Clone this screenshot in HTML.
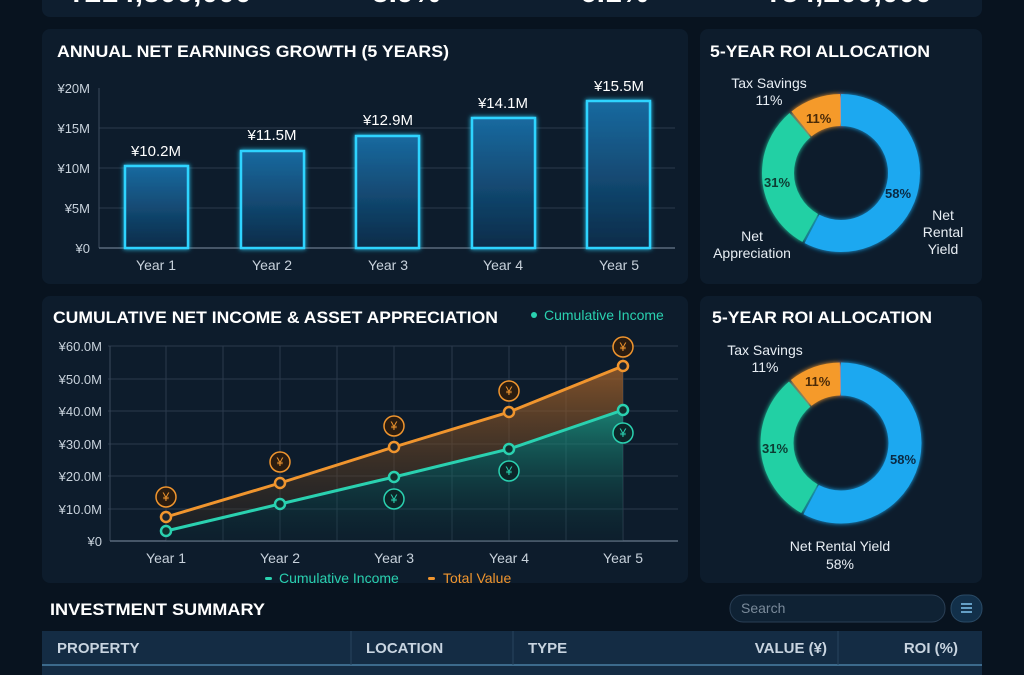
<!DOCTYPE html>
<html><head><meta charset="utf-8"><style>
body{margin:0;width:1024px;height:675px;overflow:hidden;background:#08131f;font-family:"Liberation Sans",sans-serif}
svg{display:block}
</style></head><body>
<svg width="1024" height="675" viewBox="0 0 1024 675" xmlns="http://www.w3.org/2000/svg" font-family="Liberation Sans, sans-serif">
<defs>
<linearGradient id="bar" x1="0" y1="0" x2="0" y2="1"><stop offset="0" stop-color="#1a6aa0"/><stop offset="1" stop-color="#0b2b48"/></linearGradient>
<linearGradient id="og" x1="0" y1="0" x2="0" y2="1"><stop offset="0" stop-color="#a8642a" stop-opacity=".75"/><stop offset="1" stop-color="#3a2a1a" stop-opacity=".3"/></linearGradient>
<linearGradient id="tg" x1="0" y1="0" x2="0" y2="1"><stop offset="0" stop-color="#1fa88e" stop-opacity=".7"/><stop offset="1" stop-color="#0c2a30" stop-opacity=".2"/></linearGradient>
<filter id="gl" filterUnits="userSpaceOnUse" x="0" y="0" width="1024" height="675"><feGaussianBlur stdDeviation="2.5" result="b"/><feMerge><feMergeNode in="b"/><feMergeNode in="SourceGraphic"/></feMerge></filter>
</defs>
<rect width="1024" height="675" fill="#08131f"/>
<rect x="42" y="-20" width="940" height="37" rx="8" fill="#0e1e2f"/>
<g fill="#fff" font-size="30" font-weight="bold">
<text x="68" y="2">¥214,500,000</text><text x="372" y="2">5.9%</text><text x="580" y="2">6.1%</text><text x="765" y="2">¥54,200,000</text></g>
<rect x="42" y="29" width="646" height="255" rx="8" fill="#0d1c2c"/>
<rect x="700" y="29" width="282" height="255" rx="8" fill="#0d1c2c"/>
<rect x="42" y="296" width="646" height="287" rx="8" fill="#0d1c2c"/>
<rect x="700" y="296" width="282" height="287" rx="8" fill="#0d1c2c"/>
<!-- panel1 -->
<text x="57" y="57" fill="#fff" font-size="17" font-weight="bold" textLength="392" lengthAdjust="spacingAndGlyphs">ANNUAL NET EARNINGS GROWTH (5 YEARS)</text>
<g stroke="#2a3a4c" stroke-width="1"><line x1="99" y1="128" x2="675" y2="128"/><line x1="99" y1="168" x2="675" y2="168"/><line x1="99" y1="208" x2="675" y2="208"/></g>
<line x1="99" y1="88" x2="99" y2="248" stroke="#3a4a5c"/>
<line x1="99" y1="248" x2="675" y2="248" stroke="#5a6a7c" stroke-width="1.5"/>
<g fill="#c8d2dc" font-size="13" text-anchor="end"><text x="90" y="93">¥20M</text><text x="90" y="133">¥15M</text><text x="90" y="173">¥10M</text><text x="90" y="213">¥5M</text><text x="90" y="253">¥0</text></g>
<g fill="url(#bar)" stroke="#2fd4ff" stroke-width="2.5" filter="url(#gl)">
<rect x="125" y="166" width="63" height="82"/><rect x="241" y="151" width="63" height="97"/><rect x="356" y="136" width="63" height="112"/><rect x="472" y="118" width="63" height="130"/><rect x="587" y="101" width="63" height="147"/></g>
<g fill="#fff" font-size="15" text-anchor="middle"><text x="156" y="156">¥10.2M</text><text x="272" y="140">¥11.5M</text><text x="388" y="125">¥12.9M</text><text x="503" y="108">¥14.1M</text><text x="619" y="91">¥15.5M</text></g>
<g fill="#c8d2dc" font-size="14" text-anchor="middle"><text x="156" y="270">Year 1</text><text x="272" y="270">Year 2</text><text x="388" y="270">Year 3</text><text x="503" y="270">Year 4</text><text x="619" y="270">Year 5</text></g>
<!-- donut 1 -->
<text x="710" y="57" fill="#fff" font-size="17" font-weight="bold" textLength="220" lengthAdjust="spacingAndGlyphs">5-YEAR ROI ALLOCATION</text>
<g transform="rotate(-90 841 173)" fill="none" stroke-width="32" filter="url(#gl)">
<circle cx="841" cy="173" r="63" stroke="#1aa8f0" stroke-dasharray="228 168"/>
<circle cx="841" cy="173" r="63" stroke="#22d0a4" stroke-dasharray="0 230 121 45"/>
<circle cx="841" cy="173" r="63" stroke="#f59a2a" stroke-dasharray="0 353 42 1"/>
</g>
<g fill="#0a2a44" font-size="13" font-weight="bold"><text x="885" y="198">58%</text><text x="764" y="187" fill="#0d3b32">31%</text><text x="806" y="123" fill="#4a2a08">11%</text></g>
<g fill="#e8eef4" font-size="14" text-anchor="middle"><text x="769" y="88">Tax Savings</text><text x="769" y="105">11%</text>
<text x="752" y="241">Net</text><text x="752" y="258">Appreciation</text>
<text x="943" y="220">Net</text><text x="943" y="237">Rental</text><text x="943" y="254">Yield</text></g>
<!-- panel3 -->
<text x="53" y="323" fill="#fff" font-size="17" font-weight="bold" textLength="445" lengthAdjust="spacingAndGlyphs">CUMULATIVE NET INCOME &amp; ASSET APPRECIATION</text>
<circle cx="534" cy="315" r="3" fill="#2ad1b0"/><text x="544" y="320" fill="#2ad1b0" font-size="14">Cumulative Income</text>
<g stroke="#2a3a4c"><line x1="108" y1="346" x2="678" y2="346"/><line x1="108" y1="379" x2="678" y2="379"/><line x1="108" y1="411" x2="678" y2="411"/><line x1="108" y1="444" x2="678" y2="444"/><line x1="108" y1="476" x2="678" y2="476"/><line x1="108" y1="509" x2="678" y2="509"/>
<line x1="166" y1="346" x2="166" y2="541"/><line x1="223" y1="346" x2="223" y2="541"/><line x1="280" y1="346" x2="280" y2="541"/><line x1="337" y1="346" x2="337" y2="541"/><line x1="394" y1="346" x2="394" y2="541"/><line x1="452" y1="346" x2="452" y2="541"/><line x1="509" y1="346" x2="509" y2="541"/><line x1="566" y1="346" x2="566" y2="541"/><line x1="623" y1="346" x2="623" y2="541"/></g>
<line x1="110" y1="346" x2="110" y2="541" stroke="#3a4a5c"/>
<line x1="110" y1="541" x2="678" y2="541" stroke="#5a6a7c" stroke-width="1.5"/>
<g fill="#c8d2dc" font-size="13" text-anchor="end"><text x="102" y="351">¥60.0M</text><text x="102" y="384">¥50.0M</text><text x="102" y="416">¥40.0M</text><text x="102" y="449">¥30.0M</text><text x="102" y="481">¥20.0M</text><text x="102" y="514">¥10.0M</text><text x="102" y="546">¥0</text></g>
<polygon points="166,517 280,483 394,447 509,412 623,366 623,410 509,449 394,477 280,504 166,531" fill="url(#og)"/>
<polygon points="166,531 280,504 394,477 509,449 623,410 623,541 166,541" fill="url(#tg)"/>
<polyline points="166,517 280,483 394,447 509,412 623,366" fill="none" stroke="#f0952e" stroke-width="3"/>
<polyline points="166,531 280,504 394,477 509,449 623,410" fill="none" stroke="#2ad1b0" stroke-width="3"/>
<g fill="#1a2430" stroke="#f0952e" stroke-width="2.5"><circle cx="166" cy="517" r="5"/><circle cx="280" cy="483" r="5"/><circle cx="394" cy="447" r="5"/><circle cx="509" cy="412" r="5"/><circle cx="623" cy="366" r="5"/></g>
<g fill="#12302e" stroke="#2ad1b0" stroke-width="2.5"><circle cx="166" cy="531" r="5"/><circle cx="280" cy="504" r="5"/><circle cx="394" cy="477" r="5"/><circle cx="509" cy="449" r="5"/><circle cx="623" cy="410" r="5"/></g>
<g fill="#2a1c10" stroke="#f0952e" stroke-width="1.5"><circle cx="166" cy="497" r="10"/><circle cx="280" cy="462" r="10"/><circle cx="394" cy="426" r="10"/><circle cx="509" cy="391" r="10"/><circle cx="623" cy="347" r="10"/></g>
<g fill="#0c2628" stroke="#2ad1b0" stroke-width="1.5"><circle cx="394" cy="499" r="10"/><circle cx="509" cy="471" r="10"/><circle cx="623" cy="433" r="10"/></g>
<g font-size="12" text-anchor="middle" fill="#f0952e"><text x="166" y="501">¥</text><text x="280" y="466">¥</text><text x="394" y="430">¥</text><text x="509" y="395">¥</text><text x="623" y="351">¥</text></g>
<g font-size="12" text-anchor="middle" fill="#2ad1b0"><text x="394" y="503">¥</text><text x="509" y="475">¥</text><text x="623" y="437">¥</text></g>
<g fill="#c8d2dc" font-size="14" text-anchor="middle"><text x="166" y="563">Year 1</text><text x="280" y="563">Year 2</text><text x="394" y="563">Year 3</text><text x="509" y="563">Year 4</text><text x="623" y="563">Year 5</text></g>
<rect x="265" y="577" width="7" height="3" rx="1.5" fill="#2ad1b0"/><text x="279" y="583" fill="#2ad1b0" font-size="14">Cumulative Income</text>
<rect x="428" y="577" width="7" height="3" rx="1.5" fill="#f0952e"/><text x="443" y="583" fill="#f0952e" font-size="14">Total Value</text>
<!-- donut 2 -->
<text x="712" y="323" fill="#fff" font-size="17" font-weight="bold" textLength="220" lengthAdjust="spacingAndGlyphs">5-YEAR ROI ALLOCATION</text>
<g transform="rotate(-90 841 443)" fill="none" stroke-width="33" filter="url(#gl)">
<circle cx="841" cy="443" r="64" stroke="#1aa8f0" stroke-dasharray="232 170"/>
<circle cx="841" cy="443" r="64" stroke="#22d0a4" stroke-dasharray="0 234 123 45"/>
<circle cx="841" cy="443" r="64" stroke="#f59a2a" stroke-dasharray="0 359 42 1"/>
</g>
<g font-size="13" font-weight="bold"><text x="890" y="464" fill="#0a2a44">58%</text><text x="762" y="453" fill="#0d3b32">31%</text><text x="805" y="386" fill="#4a2a08">11%</text></g>
<g fill="#e8eef4" font-size="14" text-anchor="middle"><text x="765" y="355">Tax Savings</text><text x="765" y="372">11%</text><text x="840" y="551">Net Rental Yield</text><text x="840" y="569">58%</text></g>
<!-- summary -->
<text x="50" y="615" fill="#fff" font-size="17" font-weight="bold" textLength="215" lengthAdjust="spacingAndGlyphs">INVESTMENT SUMMARY</text>
<rect x="730" y="595" width="215" height="27" rx="13" fill="#0f2234" stroke="#2a3f55"/>
<text x="741" y="613" fill="#7a8a9a" font-size="14">Search</text>
<rect x="951" y="595" width="31" height="27" rx="13" fill="#12304a" stroke="#2a4a65"/>
<g stroke="#7fc4ef" stroke-width="1.5"><line x1="961" y1="604" x2="972" y2="604"/><line x1="961" y1="608" x2="972" y2="608"/><line x1="961" y1="612" x2="972" y2="612"/></g>
<rect x="42" y="631" width="940" height="44" fill="#142c44"/>
<line x1="42" y1="665" x2="982" y2="665" stroke="#3c6a8c" stroke-width="2"/>
<g stroke="#28445e"><line x1="351" y1="631" x2="351" y2="665"/><line x1="513" y1="631" x2="513" y2="665"/><line x1="838" y1="631" x2="838" y2="665"/></g>
<g fill="#c8d4e0" font-size="15" font-weight="bold"><text x="57" y="653">PROPERTY</text><text x="366" y="653">LOCATION</text><text x="528" y="653">TYPE</text><text x="827" y="653" text-anchor="end">VALUE (¥)</text><text x="958" y="653" text-anchor="end">ROI (%)</text></g>
</svg>
</body></html>
